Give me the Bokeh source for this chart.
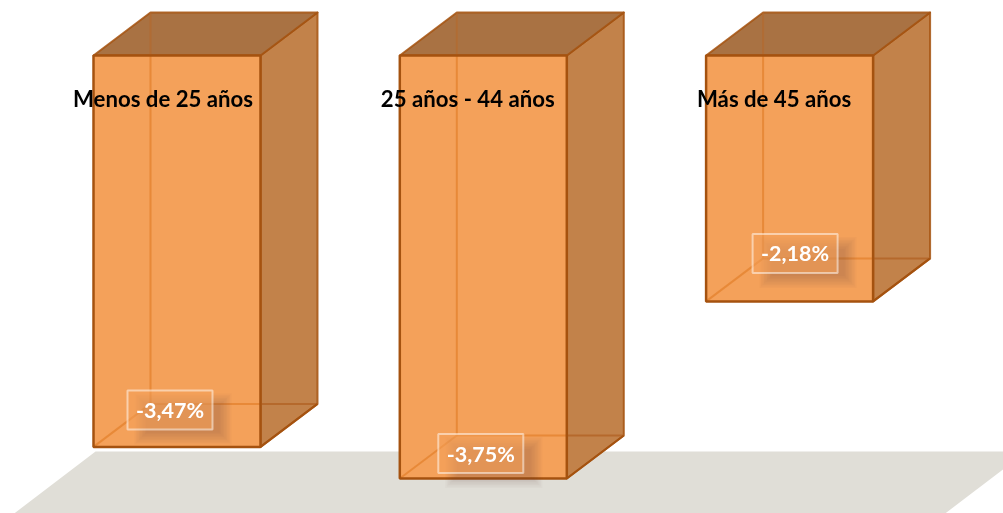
from bokeh.plotting import figure
from bokeh.models import ColumnDataSource, Range1d
from bokeh.core.properties import value
from bokeh.embed import file_html
from bokeh.resources import INLINE

categories = ["Menos de 25 años", "25 años - 44 años", "Más de 45 años"]
values = [-3.47, -3.75, -2.18]
value_labels = ["-3,47%", "-3,75%", "-2,18%"]

W, H = 1003, 513
PX_X, PX_Y = 306.3, 112.8          # pixels per data unit
X0, Y0 = 176.5, 55                 # pixel of category 0 / value 0
BAR_W = 167 / PX_X
DX, DY = 57 / PX_X, 43 / PX_Y      # depth of the 3D box
FRONT, SIDE, TOP = "#F4A15A", "#C2824A", "#A97243"
EDGE = "#A5520F"
HIDDEN = "#DF7A22"
HIDDEN_DARK = "#B5692C"
FLOOR = "#E0DED7"
# layout of the labels, in pixels relative to each bar
cat_dx = [-14, -15.5, -15.5]
lab_dx = [-7, -2.5, 5.5]
lab_dy = [-37, -25, -48]

p = figure(width=W, height=H, output_backend="svg", toolbar_location=None,
           x_range=Range1d(-X0 / PX_X, (W - X0) / PX_X),
           y_range=Range1d(-(H - Y0) / PX_Y, Y0 / PX_Y),
           min_border=0, outline_line_color=None, background_fill_color="white",
           border_fill_color="white")
p.axis.visible = False
p.grid.visible = False
p.styles = {"position": "fixed", "left": "0px", "top": "0px"}

# floor, a parallelogram under the boxes
fy1, fy2 = -(451 - Y0) / PX_Y, -(H + 2 - Y0) / PX_Y
fx = [(95 - X0) / PX_X, (1026 - X0) / PX_X, (942 - X0) / PX_X, (11 - X0) / PX_X]
p.patch(fx, [fy1, fy1, fy2, fy2], fill_color=FLOOR, line_color=None)

xs = list(range(len(values)))
for i, (x, v) in enumerate(zip(xs, values)):
    l, r = x - BAR_W / 2, x + BAR_W / 2
    # side and top faces
    p.patch([r, r + DX, r + DX, r], [0, DY, v + DY, v], fill_color=SIDE,
            line_color=EDGE, line_width=2, line_join="round", line_alpha=0.85)
    p.patch([l, l + DX, r + DX, r], [0, DY, DY, 0], fill_color=TOP,
            line_color=EDGE, line_width=2, line_join="round", line_alpha=0.85)
    # front face
    p.quad(left=l, right=r, top=0, bottom=v, fill_color=FRONT, line_color=None)
    # hidden edges seen through the box
    p.line([l + DX, l + DX], [0, v + DY], line_color=HIDDEN, line_alpha=0.6, line_width=2)
    p.line([l + DX, l + DX], [DY, 0], line_color=HIDDEN_DARK, line_alpha=0.6, line_width=2)
    p.line([l + DX, r], [v + DY, v + DY], line_color=HIDDEN, line_alpha=0.6, line_width=2)
    p.line([r, r + DX], [v + DY, v + DY], line_color=HIDDEN_DARK, line_width=2)
    p.line([l, l + DX], [v, v + DY], line_color=HIDDEN, line_alpha=0.6, line_width=2)
    p.line([r, r + DX], [v, v + DY], line_color=EDGE, line_width=2)
    p.quad(left=l, right=r, top=0, bottom=v, fill_color=None, line_color=EDGE, line_width=2.5)

    # value label: soft shadow, box and text
    cx = x + lab_dx[i] / PX_X
    cy = v - lab_dy[i] / PX_Y
    hw, hh = 42.5 / PX_X, 19.5 / PX_Y
    sx, sy = 13 / PX_X, -9 / PX_Y
    for grow in (6, 4.5, 3, 1.5, 0, -1.5, -3, -4.5, -6):
        gx, gy = grow / PX_X, grow / PX_Y
        p.quad(left=cx - hw + sx - gx, right=cx + hw + sx + gx,
               top=cy + hh + sy + gy, bottom=cy - hh + sy - gy,
               fill_color="#5A4A3A", fill_alpha=0.032, line_color=None)
    p.quad(left=cx - hw, right=cx + hw, top=cy + hh, bottom=cy - hh,
           fill_color=FRONT, fill_alpha=0.55, line_color="white", line_alpha=0.5, line_width=2)

src = ColumnDataSource(dict(
    x=[x + d / PX_X for x, d in zip(xs, cat_dx)],
    y=[-(97.5 - Y0) / PX_Y] * 3,
    t=categories))
p.text("x", "y", text="t", source=src, text_font=value("Lato"), text_font_style="bold",
       text_font_size="22.2px", text_color="black", text_align="center", text_baseline="middle")

src2 = ColumnDataSource(dict(
    x=[x + d / PX_X for x, d in zip(xs, lab_dx)],
    y=[v - d / PX_Y for v, d in zip(values, lab_dy)],
    t=value_labels))
p.text("x", "y", text="t", source=src2, text_font=value("Lato"), text_font_style="bold",
       text_font_size="21.5px", text_color="white", text_align="center", text_baseline="middle")

open("out.html", "w").write(file_html(p, INLINE))
